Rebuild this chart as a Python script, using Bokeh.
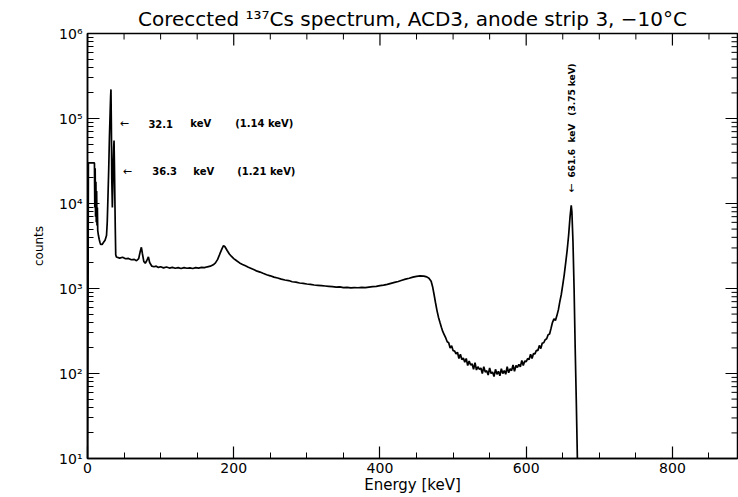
from bokeh.plotting import figure
from bokeh.models import FixedTicker, Range1d
from bokeh.core.properties import value
from bokeh.embed import file_html
from bokeh.resources import INLINE

# ---- data ----
energy_kev = [
    0, 0.8, 1.2, 2, 6, 9.5, 10, 10.5, 11, 11.5, 12, 12.5, 13, 13.5, 14, 15, 16, 17, 18, 20,
    22, 24, 26, 27, 28, 29, 30, 31, 31.6, 32.1, 32.6, 33.2, 34, 34.6, 35.2, 35.8, 36.3, 36.8,
    37.4, 38, 38.6, 39.5,
    44, 48, 52, 56, 60, 64, 67, 70, 72, 73.7, 75, 77, 79, 81, 83.3, 85, 88, 91, 94, 97, 100,
    104, 108, 112, 116, 120, 124, 128, 132, 136, 140, 144, 148, 152, 156, 160, 164, 168, 172,
    175, 178, 181, 184, 186, 188, 191, 194, 197, 200, 204, 208, 212, 216, 220, 224, 228, 232,
    236, 240, 245, 250, 255, 260, 265, 270, 275, 280, 285, 290, 295, 300, 305, 310, 315, 320,
    325, 330, 335, 340, 345, 350, 355, 360, 365, 370, 375, 380, 385, 390, 395, 400, 405, 410,
    415, 420, 425, 430, 435, 440, 445, 450, 455, 460, 464, 467, 470, 472, 474, 476, 478, 480,
    482, 484, 486, 488,
    490, 492, 494, 496, 498, 500, 502, 504, 506, 508, 510, 512, 514, 516, 518, 520, 522, 524,
    526, 528, 530, 532, 534, 536, 538, 540, 542, 544, 546, 548, 550, 552, 554, 556, 558, 560,
    562, 564, 566, 568, 570, 572, 574, 576, 578, 580, 582, 584, 586, 588, 590, 592, 594, 596,
    598, 600, 602, 604, 606, 608, 610, 612, 614, 616, 618, 620, 622, 624, 626, 628, 630, 632,
    634, 636, 638, 640, 642, 644, 646, 648, 650, 652, 654, 656, 658, 660, 661.6, 662.5, 664,
    665.5, 667, 668.5, 670,
]
counts = [
    10, 900, 30000, 30000, 30000, 30000, 9000, 26000, 7000, 18000, 6000, 14000, 5500, 9000,
    4800, 4200, 3800, 3500, 3300, 3300, 3500, 3700, 4200, 6000, 12000, 25000, 60000, 120000,
    180000, 220000, 90000, 20000, 9000, 15000, 30000, 45000, 55000, 30000, 12000, 5000, 2500,
    2350,
    2280, 2330, 2240, 2260, 2180, 2200, 2120, 2250, 2700, 3050, 2600, 2080, 1980, 2120, 2350,
    2020, 1830, 1800, 1830, 1770, 1800, 1750, 1790, 1740, 1770, 1730, 1760, 1720, 1760, 1730,
    1750, 1720, 1760, 1740, 1770, 1760, 1800, 1830, 1900, 2000, 2200, 2550, 2950, 3200, 3100,
    2800, 2550, 2380, 2250, 2120, 2000, 1920, 1850, 1780, 1720, 1660, 1600, 1560, 1510, 1450,
    1410, 1360, 1330, 1290, 1260, 1240, 1200, 1190, 1160, 1150, 1130, 1120, 1100, 1090, 1080,
    1070, 1060, 1050, 1040, 1045, 1025, 1030, 1015, 1025, 1020, 1030, 1025, 1040, 1050, 1060,
    1080, 1095, 1120, 1150, 1180, 1210, 1250, 1290, 1320, 1360, 1390, 1410, 1400, 1370, 1320,
    1220, 1050, 850, 680, 550, 460, 400, 350, 310, 285,
    262, 236, 230, 200, 212, 186, 184, 170, 178, 150, 168, 146, 152, 136, 150, 124, 140, 126,
    130, 112, 134, 110, 120, 112, 116, 100, 120, 104, 108, 96, 116, 100, 104, 92, 112, 98,
    106, 94, 114, 100, 108, 98, 120, 102, 114, 108, 126, 106, 124, 118, 128, 120, 142, 124,
    140, 138, 150, 146, 168, 150, 172, 170, 188, 186, 214, 196, 228, 230, 250, 256, 286, 292,
    340, 400, 440, 420, 480, 560, 700, 850, 1100, 1450, 2000, 2800, 4200, 7000, 9500, 8000,
    3500, 1000, 200, 48, 10,
]

x_major = [0, 200, 400, 600, 800]
x_minor = [50, 100, 150, 250, 300, 350, 450, 500, 550, 650, 700, 750, 850]
y_major = [1e1, 1e2, 1e3, 1e4, 1e5, 1e6]
y_labels = ["10\u00b9", "10\u00b2", "10\u00b3", "10\u2074", "10\u2075", "10\u2076"]

title_text = "Coreccted \u00b9\u00b3\u2077Cs spectrum, ACD3, anode strip 3, \u221210\u00b0C"
peak_texts_h = [["\u2190", "32.1", "keV", "(1.14 keV)"], ["\u2190", "36.3", "keV", "(1.21 keV)"]]
peak_texts_v = ["661.6", "keV", "(3.75 keV)"]

FONT = "DejaVu Sans"
X0, X1, Y0, Y1 = 0, 889, 10, 1e6

y_minor = []
for d in y_major[:-1]:
    for k in range(2, 10):
        y_minor.append(k * d)

p = figure(width=738, height=497, x_range=Range1d(X0, X1), y_range=Range1d(Y0, Y1),
           y_axis_type="log", output_backend="svg", toolbar_location=None,
           min_border_left=87, min_border_right=1, min_border_top=33, min_border_bottom=39,
           background_fill_color="white", border_fill_color="white")
p.grid.visible = False
p.outline_line_color = "black"
p.outline_line_width = 1.5

p.title.text = title_text
p.title.align = "center"
p.title.text_font = FONT
p.title.text_font_size = "20px"
p.title.text_font_style = "normal"
p.title.text_color = "black"
p.title.standoff = 5

xt = FixedTicker(ticks=x_major, minor_ticks=x_minor)
yt = FixedTicker(ticks=y_major, minor_ticks=y_minor)

def style_axis(ax, ticker):
    ax.ticker = ticker
    ax.major_tick_in = 12
    ax.major_tick_out = 0
    ax.minor_tick_in = 6
    ax.minor_tick_out = 0
    ax.axis_line_color = "black"
    ax.axis_line_width = 1.5
    ax.major_tick_line_color = "black"
    ax.major_tick_line_width = 1.2
    ax.minor_tick_line_color = "black"
    ax.minor_tick_line_width = 1
    ax.major_label_text_font = FONT
    ax.major_label_text_font_size = "14px"
    ax.major_label_text_color = "black"
    ax.axis_label_text_font = FONT
    ax.axis_label_text_font_style = "normal"
    ax.axis_label_text_color = "black"

xa = p.xaxis[0]
style_axis(xa, xt)
xa.axis_label = "Energy [keV]"
xa.axis_label_text_font_size = "15px"
xa.major_label_standoff = 4
xa.axis_label_standoff = 0

ya = p.yaxis[0]
style_axis(ya, yt)
ya.axis_label = "counts"
ya.axis_label_text_font_size = "12px"
ya.major_label_standoff = 5
ya.axis_label_standoff = 10
ya.major_label_overrides = {v: s for v, s in zip(y_major, y_labels)}

# inward ticks on the top and right frame edges, built from the tick lists
dec_major = 10 ** (-12 / 85.0)
dec_minor = 10 ** (-6 / 85.0)
kev_per_px = (X1 - X0) / 650.0
p.segment(x0=x_major, y0=[Y1] * len(x_major), x1=x_major, y1=[Y1 * dec_major] * len(x_major),
          line_color="black", line_width=1.2)
p.segment(x0=x_minor, y0=[Y1] * len(x_minor), x1=x_minor, y1=[Y1 * dec_minor] * len(x_minor),
          line_color="black", line_width=1)
p.segment(x0=[X1] * len(y_major), y0=y_major, x1=[X1 - 12 * kev_per_px] * len(y_major), y1=y_major,
          line_color="black", line_width=1.2)
p.segment(x0=[X1] * len(y_minor), y0=y_minor, x1=[X1 - 6 * kev_per_px] * len(y_minor), y1=y_minor,
          line_color="black", line_width=1)

p.line(energy_kev, counts, line_color="black", line_width=1.7)

# annotations for the x-ray lines
ann_font = value(FONT)
rows = [(87300, [50.5, 83.3, 140.6, 202.0]), (23800, [54.6, 88.7, 144.7, 204.8])]
for (yv, xs), texts in zip(rows, peak_texts_h):
    p.text(x=[xs[0]], y=[yv], text=[texts[0]], text_font=ann_font, text_font_size="11px",
           text_align="center", text_baseline="middle", text_color="black")
    p.text(x=xs[1:], y=[yv] * 3, text=texts[1:], text_font=ann_font, text_font_size="10px",
           text_font_style="bold", text_align="left", text_baseline="middle", text_color="black")

# annotation for the 661.6 keV line (vertical)
p.text(x=[662.1], y=[15000], text=["\u2193"], text_font=ann_font, text_font_size="11px",
       text_align="center", text_baseline="middle", text_color="black")
p.text(x=[662.1] * 3, y=[20200, 52200, 108000], text=peak_texts_v, angle=1.5708,
       text_font=ann_font, text_font_size="9px", text_font_style="bold",
       text_align="left", text_baseline="middle", text_color="black")

open("out.html", "w").write(file_html(p, INLINE))
